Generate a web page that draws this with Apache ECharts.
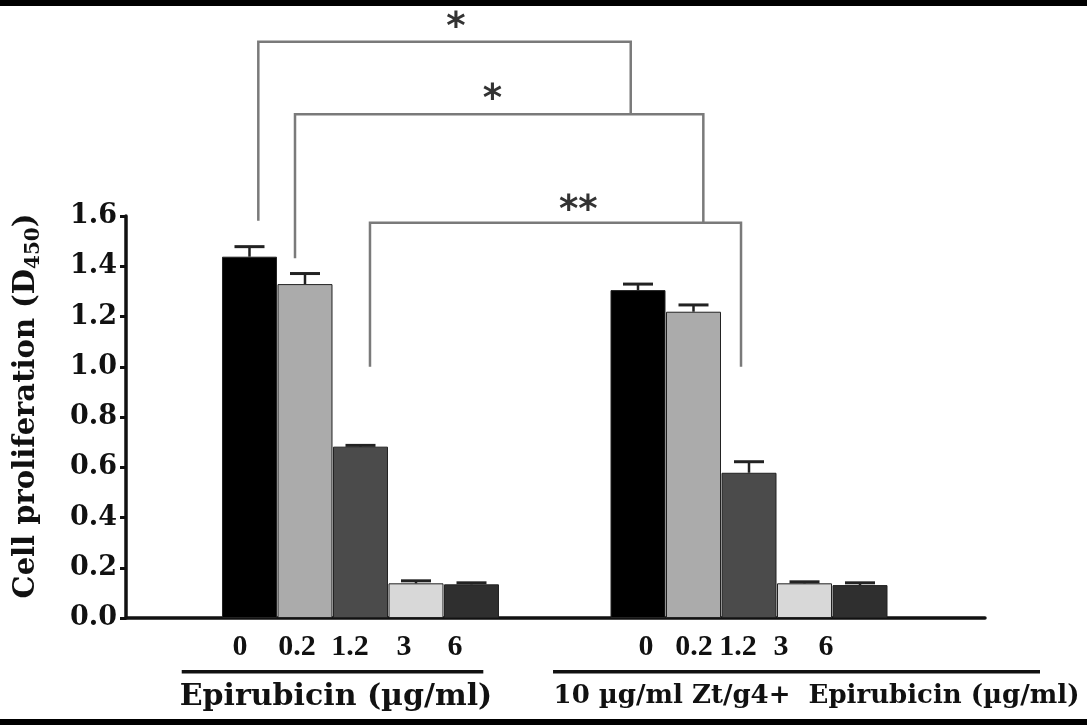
<!DOCTYPE html>
<html><head><meta charset="utf-8">
<script src="https://cdn.jsdelivr.net/npm/echarts@6/dist/echarts.min.js"></script>
<style>html,body{margin:0;padding:0;background:#fff}#c{width:1087px;height:725px}</style>
</head><body><div id="c"></div>
<script>
// ---- data ----
const doses = ['0', '0.2', '1.2', '3', '6'];
const groupTitles = ['Epirubicin (µg/ml)', '10 µg/ml Zt/g4+  Epirubicin (µg/ml)'];
const epiMeans = [1.438, 1.329, 0.682, 0.138, 0.134];
const epiErr   = [0.040, 0.042, 0.005, 0.010, 0.006];
const ztMeans  = [1.305, 1.219, 0.578, 0.138, 0.131];
const ztErr    = [0.024, 0.027, 0.044, 0.006, 0.009];
const yTickLabels = ['0.0','0.2','0.4','0.6','0.8','1.0','1.2','1.4','1.6'];
// significance brackets: [x left, x right, level, left leg end, right leg end] in axis units
const bracketLines = [
  [0.159, 6.869, 2.294, 1.581, 2.005],
  [0.820, 8.177, 2.005, 1.432, 1.573],
  [2.171, 8.856, 1.573, 1.000, 1.000]
];
const sigLabels = ['*', '*', '**'];
const sigPos = [[3.721, 2.345], [4.375, 2.060], [5.925, 1.620]];
// x tick label positions (axis units) as printed under each group
const tickPos = [-0.171, 0.856, 1.811, 2.784, 3.703, 7.144, 8.009, 8.802, 9.577, 10.388];
const underlines = [[-1.221, 4.213, -0.214], [5.469, 14.243, -0.214]];
const titlePos = [[1.559, -0.314], [10.216, -0.310]];

// ---- styles ----
const barColors = ['#000000', '#ababab', '#4b4b4b', '#d8d8d8', '#2f2f2f'];
const GROUP_STRIDE = 7;
const SERIF_W = 'DejaVu Serif';
const SERIF_T = 'Liberation Serif';

const groups = [{m: epiMeans, e: epiErr}, {m: ztMeans, e: ztErr}];
const barData = [], errData = [], tickText = [];
groups.forEach((g, gi) => {
  doses.forEach((d, i) => {
    const x = gi * GROUP_STRIDE + i;
    barData.push({value: [x, g.m[i]], itemStyle: {color: barColors[i]}});
    errData.push([x, g.m[i], g.e[i]]);
    tickText.push(d);
  });
});

const chart = echarts.init(document.getElementById('c'), null, {renderer: 'canvas'});
chart.setOption({
  animation: false,
  backgroundColor: '#fff',
  grid: {left: 126, right: 102, top: 216, bottom: 107, containLabel: false},
  xAxis: {
    type: 'value', min: -2.225, max: 13.252,
    splitLine: {show: false},
    axisTick: {show: false},
    axisLine: {show: true, onZero: false, lineStyle: {color: '#111', width: 3.5}},
    axisLabel: {
      customValues: tickPos,
      margin: 14,
      fontFamily: SERIF_T, fontWeight: 'bold', fontSize: 30, color: '#111',
      formatter: function (v) {
        let best = 0, bd = 1e9;
        tickPos.forEach((p, i) => { const d = Math.abs(p - v); if (d < bd) { bd = d; best = i; } });
        return tickText[best];
      }
    }
  },
  yAxis: {
    type: 'value', min: 0, max: 1.6, interval: 0.2,
    splitLine: {show: false},
    axisLine: {show: true, onZero: false, lineStyle: {color: '#111', width: 3.5}},
    axisTick: {show: true, length: 6, lineStyle: {color: '#111', width: 3}},
    axisLabel: {
      margin: 9, fontFamily: SERIF_W, fontWeight: 'bold', fontSize: 27, color: '#111',
      formatter: function (v) { return yTickLabels[Math.round(v / 0.2)]; }
    },
    name: 'Cell proliferation (D{s|450})',
    nameLocation: 'middle', nameRotate: 90, nameGap: 82,
    nameTextStyle: {
      fontFamily: SERIF_W, fontWeight: 'bold', fontSize: 29, color: '#111', lineHeight: 36,
      padding: [0, 0, 0, 22],
      rich: {s: {fontFamily: SERIF_W, fontWeight: 'bold', fontSize: 20, lineHeight: 20, verticalAlign: 'bottom', color: '#111'}}
    }
  },
  graphic: [
    {type: 'rect', shape: {x: 0, y: 0, width: 1087, height: 6}, style: {fill: '#000'}, z: 100},
    {type: 'rect', shape: {x: 0, y: 719, width: 1087, height: 6}, style: {fill: '#000'}, z: 100}
  ],
  series: [
    {
      type: 'bar', data: barData, barWidth: 55, barGap: '0%',
      itemStyle: {borderColor: '#222', borderWidth: 1}, z: 2
    },
    {
      type: 'custom', data: errData, z: 3, clip: false,
      encode: {x: 0, y: [1, 2]},
      renderItem: function (params, api) {
        const x = api.value(0), m = api.value(1), e = api.value(2);
        const p0 = api.coord([x, m]), p1 = api.coord([x, m + e]);
        return {type: 'group', children: [
          {type: 'line', shape: {x1: p0[0], y1: p0[1], x2: p1[0], y2: p1[1]}, style: {stroke: '#222', lineWidth: 2.5}},
          {type: 'line', shape: {x1: p1[0] - 15, y1: p1[1], x2: p1[0] + 15, y2: p1[1]}, style: {stroke: '#222', lineWidth: 3}}
        ]};
      }
    },
    {
      type: 'custom', data: bracketLines, z: 4, clip: false,
      encode: {x: [0, 1], y: [2, 3, 4]},
      renderItem: function (params, api) {
        const x1 = api.value(0), x2 = api.value(1), lv = api.value(2), le = api.value(3), re = api.value(4);
        const pts = [api.coord([x1, le]), api.coord([x1, lv]), api.coord([x2, lv]), api.coord([x2, re])];
        return {type: 'polyline', shape: {points: pts}, style: {stroke: '#7a7a7a', lineWidth: 2.5, fill: null}};
      }
    },
    {
      type: 'custom', data: sigPos, z: 5, clip: false,
      encode: {x: 0, y: 1},
      renderItem: function (params, api) {
        const p = api.coord([api.value(0), api.value(1)]);
        return {type: 'text', x: p[0], y: p[1], style: {
          text: sigLabels[params.dataIndex], fill: '#333', fontFamily: 'DejaVu Sans', fontWeight: 'bold',
          fontSize: 37, align: 'center', verticalAlign: 'middle'
        }};
      }
    },
    {
      type: 'custom', data: underlines, z: 5, clip: false,
      encode: {x: [0, 1], y: 2},
      renderItem: function (params, api) {
        const a = api.coord([api.value(0), api.value(2)]), b = api.coord([api.value(1), api.value(2)]);
        return {type: 'line', shape: {x1: a[0], y1: a[1], x2: b[0], y2: b[1]}, style: {stroke: '#111', lineWidth: 3.5}};
      }
    },
    {
      type: 'custom', data: titlePos, z: 5, clip: false,
      encode: {x: 0, y: 1},
      renderItem: function (params, api) {
        const p = api.coord([api.value(0), api.value(1)]);
        return {type: 'text', x: p[0], y: p[1], style: {
          text: groupTitles[params.dataIndex], fill: '#111', fontFamily: SERIF_W, fontWeight: 'bold',
          fontSize: params.dataIndex === 0 ? 30 : 26, align: 'center', verticalAlign: 'middle'
        }};
      }
    }
  ]
});
</script></body></html>
